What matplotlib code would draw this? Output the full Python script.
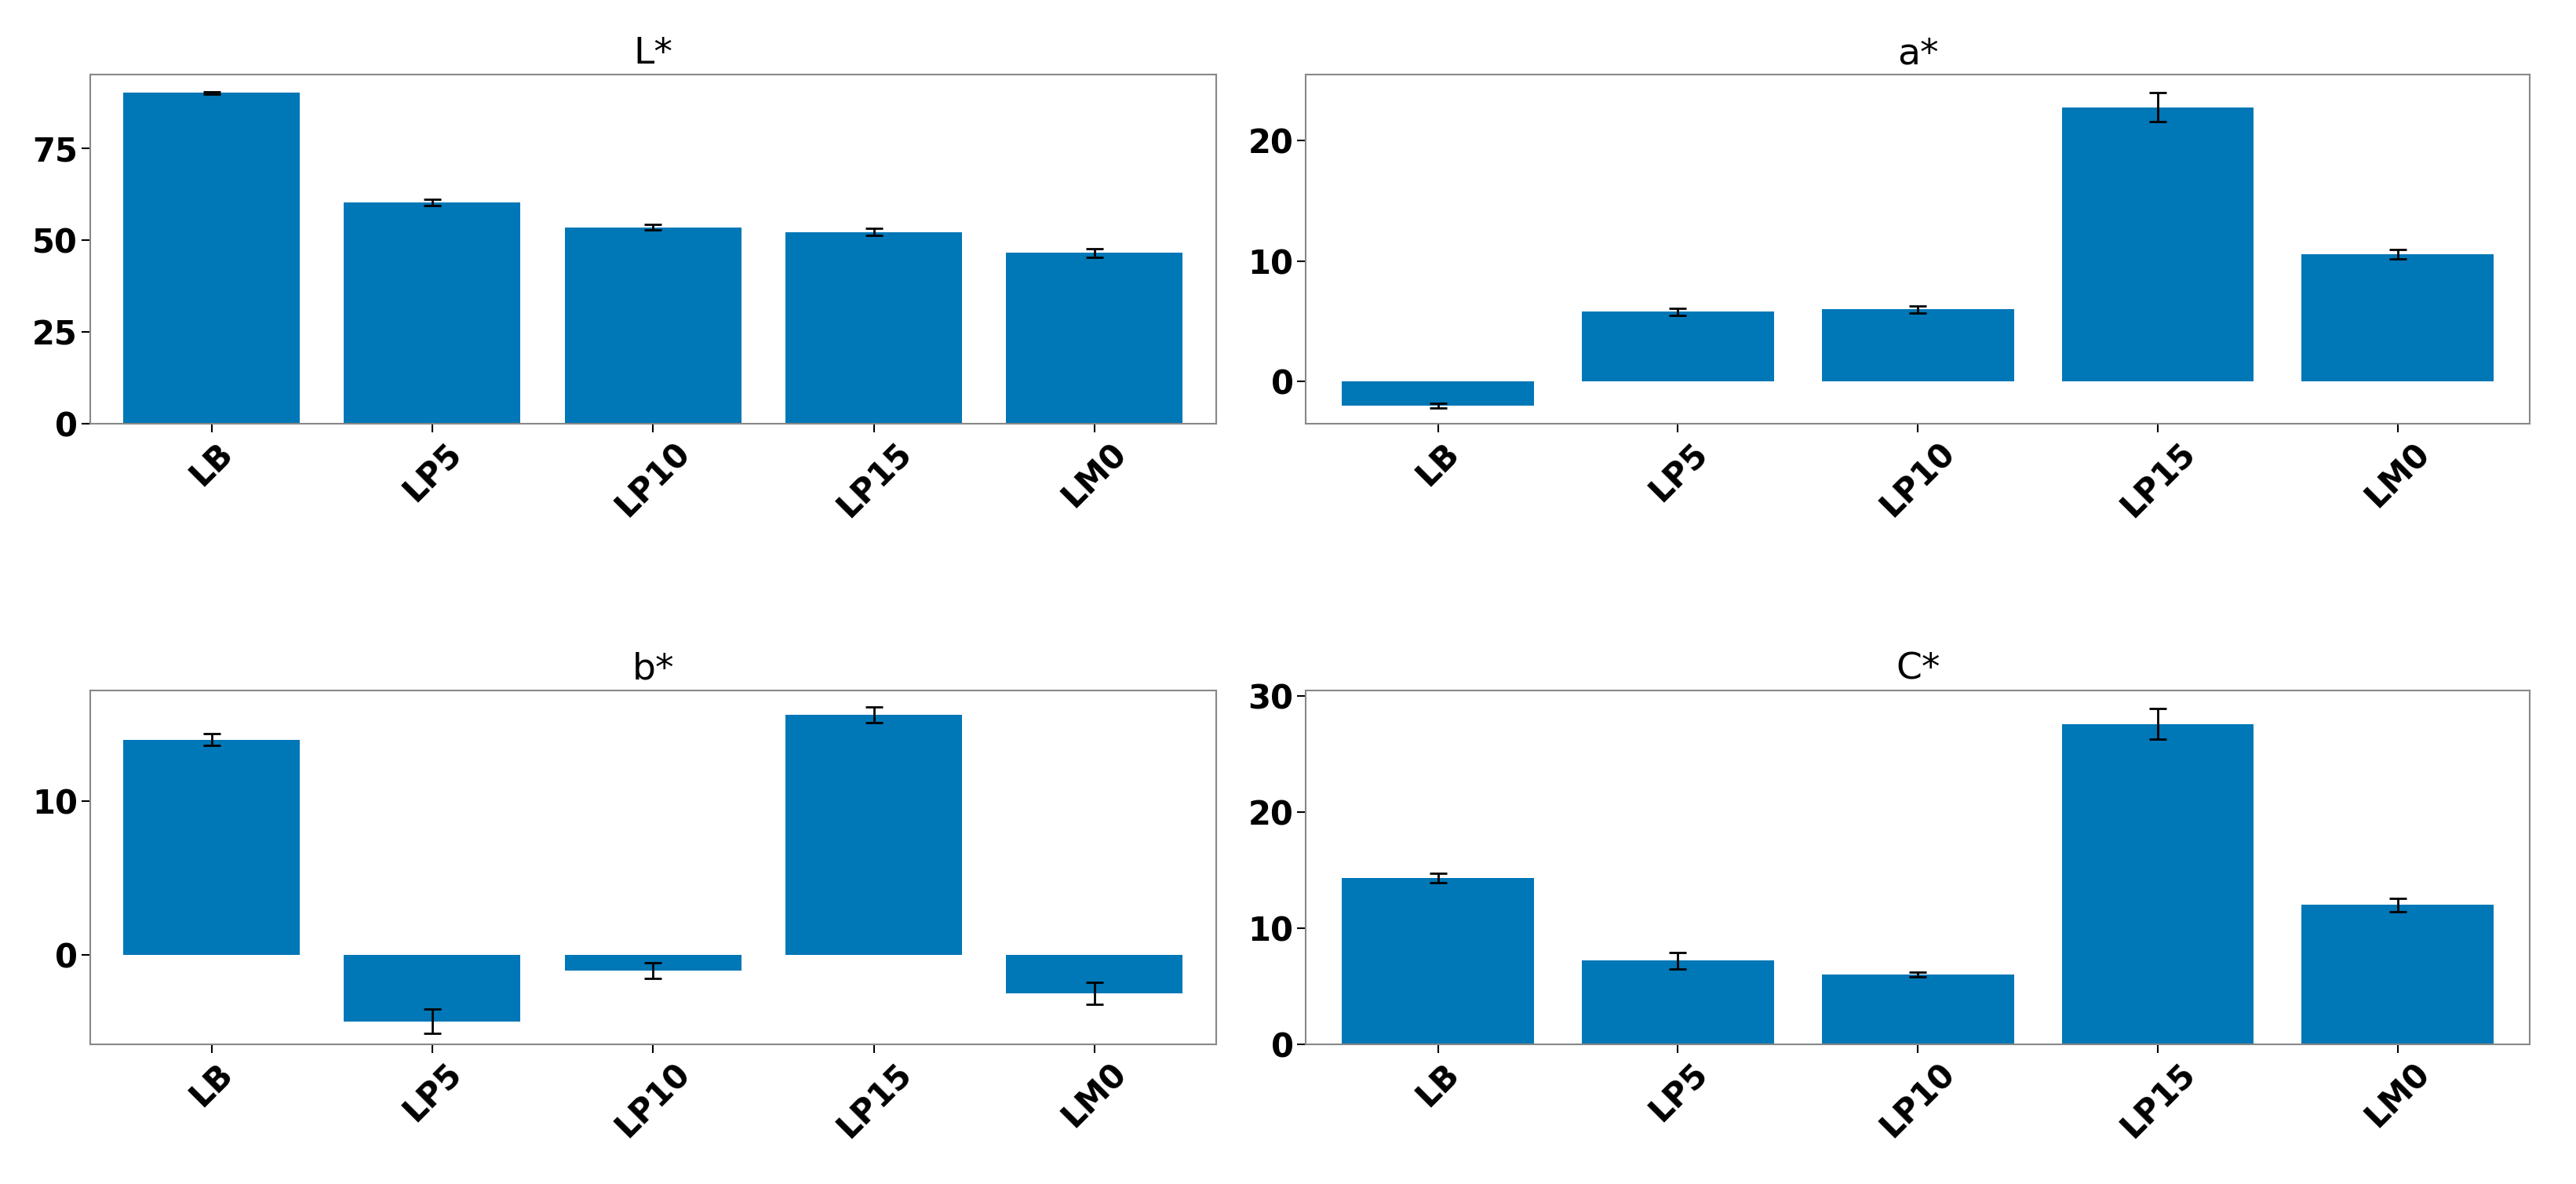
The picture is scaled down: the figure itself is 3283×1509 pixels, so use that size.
import matplotlib
matplotlib.use("Agg")
import matplotlib.pyplot as plt

samples = ["LB", "LP5", "LP10", "LP15", "LM0"]
titles = ["L*", "a*", "b*", "C*"]
means = [
    [90.0, 60.2, 53.5, 52.2, 46.5],
    [-2.0, 5.8, 6.0, 22.8, 10.6],
    [14.0, -4.3, -1.0, 15.6, -2.5],
    [14.3, 7.2, 6.0, 27.6, 12.0],
]
errs = [
    [0.4, 0.9, 0.7, 0.9, 1.2],
    [0.2, 0.3, 0.3, 1.2, 0.4],
    [0.4, 0.8, 0.5, 0.5, 0.7],
    [0.4, 0.7, 0.2, 1.3, 0.6],
]
ylims = [(0, 95), (-3.5, 25.5), (-5.8, 17.2), (0, 30.5)]
yticks = [[0, 25, 50, 75], [0, 10, 20], [0, 10], [0, 10, 20, 30]]

fig = plt.figure(figsize=(32.83, 15.09), dpi=100)
# [left, bottom, width, height]
positions = [
    [0.035, 0.642, 0.437, 0.295],
    [0.507, 0.642, 0.475, 0.295],
    [0.035, 0.118, 0.437, 0.299],
    [0.507, 0.118, 0.475, 0.299],
]

for i in range(4):
    ax = fig.add_axes(positions[i])
    ax.bar(samples, means[i], yerr=errs[i], color="#0077b6", width=0.8,
           capsize=8, error_kw={"elinewidth": 2, "capthick": 2, "ecolor": "black"})
    ax.set_title(titles[i], fontsize=34, pad=10)
    ax.set_ylim(*ylims[i])
    ax.set_yticks(yticks[i])
    ax.set_xlim(-0.55, 4.55)
    for lab in ax.get_xticklabels():
        lab.set_rotation(45)
        lab.set_fontweight("bold")
        lab.set_fontsize(30)
    for lab in ax.get_yticklabels():
        lab.set_fontweight("bold")
        lab.set_fontsize(30)
    ax.tick_params(length=8, width=1.5)
    for s in ax.spines.values():
        s.set_color("#888888")
        s.set_linewidth(1.5)

fig.savefig("out.png", dpi=100)
